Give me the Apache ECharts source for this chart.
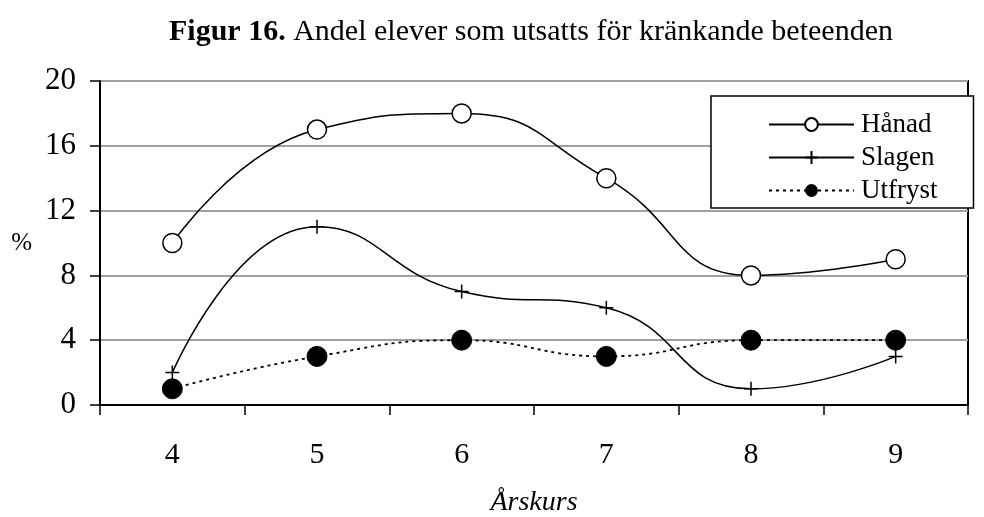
<!DOCTYPE html>
<html>
<head>
<meta charset="utf-8">
<script src="https://cdn.jsdelivr.net/npm/echarts@6/dist/echarts.min.js"></script>
<style>
  html, body { margin: 0; padding: 0; background: #fff; }
  #chart { width: 984px; height: 517px; }
</style>
</head>
<body>
<div id="chart"></div>
<script>
// data
var arskurs = ['4', '5', '6', '7', '8', '9'];
var hanad = [10, 17, 18, 14, 8, 9];
var slagen = [2, 11, 7, 6, 1, 3];
var utfryst = [1, 3, 4, 3, 4, 4];
var yTicks = [0, 4, 8, 12, 16, 20];

var serif = '"Liberation Serif", "DejaVu Serif", serif';
var chart = echarts.init(document.getElementById('chart'));

var option = {
  backgroundColor: '#fff',
  animation: false,
  textStyle: { fontFamily: serif, color: '#000' },
  title: {
    text: '{b|Figur 16.} Andel elever som utsatts för kränkande beteenden',
    left: 526,
    textAlign: 'center',
    top: 12,
    textStyle: {
      fontFamily: serif,
      fontSize: 30,
      fontWeight: 'normal',
      color: '#000',
      rich: {
        b: { fontFamily: serif, fontSize: 30, fontWeight: 'bold', color: '#000' }
      }
    }
  },
  grid: {
    left: 100, right: 16, top: 81, bottom: 112,
    outerBoundsMode: 'none',
    show: true,
    borderColor: '#000',
    borderWidth: 2
  },
  legend: {
    left: 711,
    top: 96,
    orient: 'vertical',
    backgroundColor: '#fff',
    borderColor: '#000',
    borderWidth: 1.5,
    padding: [15, 36, 4, 57],
    itemWidth: 85,
    itemHeight: 16,
    itemGap: 6,
    data: ['Hånad', 'Slagen', 'Utfryst'],
    textStyle: { fontFamily: serif, fontSize: 27, lineHeight: 27, color: '#000', padding: [0, 0, 0, 2] }
  },
  xAxis: {
    type: 'category',
    data: arskurs,
    name: 'Årskurs',
    nameLocation: 'middle',
    nameGap: 84,
    nameTextStyle: { fontFamily: serif, fontSize: 28, fontStyle: 'italic', color: '#000' },
    axisLine: { lineStyle: { color: '#000', width: 2 } },
    axisTick: { show: true, length: 10, lineStyle: { color: '#000', width: 1.5 } },
    axisLabel: { fontFamily: serif, fontSize: 30, color: '#000', margin: 35 },
    splitLine: { show: false }
  },
  yAxis: {
    type: 'value',
    min: yTicks[0],
    max: yTicks[yTicks.length - 1],
    interval: 4,
    name: '%',
    nameLocation: 'middle',
    nameRotate: 0,
    nameGap: 68,
    nameTextStyle: { fontFamily: serif, fontSize: 25, color: '#000' },
    axisLine: { show: true, lineStyle: { color: '#000', width: 2 } },
    axisTick: { show: true, length: 10, lineStyle: { color: '#000', width: 1.5 } },
    axisLabel: { fontFamily: serif, fontSize: 31, color: '#000', margin: 24 },
    splitLine: { show: true, lineStyle: { color: '#a0a0a0', width: 2 } }
  },
  series: [
    {
      name: 'Hånad',
      type: 'line',
      data: hanad,
      smooth: 0.5,
      symbol: 'circle',
      symbolSize: 19,
      lineStyle: { color: '#000', width: 1.5 },
      itemStyle: { color: '#fff', borderColor: '#000', borderWidth: 1.5 },
      z: 3
    },
    {
      name: 'Slagen',
      type: 'line',
      data: slagen,
      smooth: 0.5,
      symbol: 'path://M0,-1L0,1M-1,0L1,0',
      symbolSize: 14,
      lineStyle: { color: '#000', width: 1.5 },
      itemStyle: { color: 'none', borderColor: '#000', borderWidth: 1.5 },
      z: 3
    },
    {
      name: 'Utfryst',
      type: 'line',
      data: utfryst,
      smooth: 0.5,
      symbol: 'circle',
      symbolSize: 20,
      lineStyle: { color: '#000', width: 1.8, type: [3, 4] },
      itemStyle: { color: '#000', borderColor: '#000' },
      z: 2
    }
  ]
};

chart.setOption(option);
</script>
</body>
</html>
